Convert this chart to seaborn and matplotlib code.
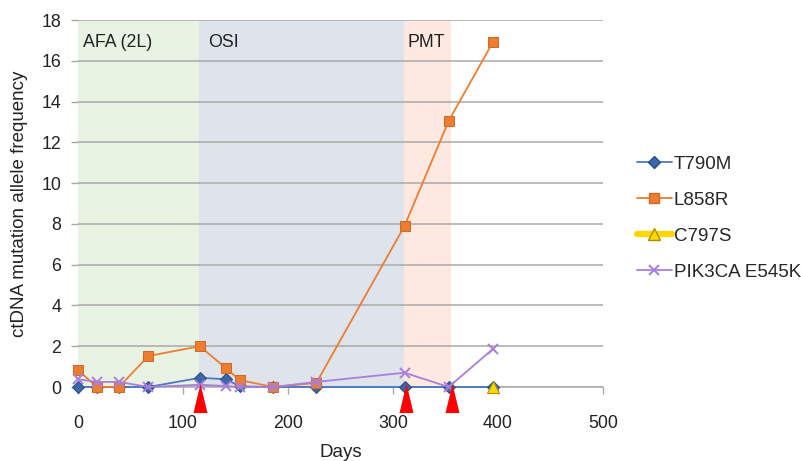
import numpy as np
import pandas as pd
import seaborn as sns
import matplotlib.pyplot as plt
from matplotlib.lines import Line2D
from matplotlib.transforms import blended_transform_factory

# sampling days and allele frequencies (%)
days = [0, 18, 39, 67, 116, 141, 154, 186, 227, 311, 353, 395]
t790m = [0, 0, 0, 0, 0.45, 0.38, 0.03, 0, 0, 0, 0, 0]
l858r = [0.83, 0, 0, 1.52, 2.0, 0.92, 0.34, 0, 0.2, 7.9, 13.05, 16.9]
pik3ca = [0.38, 0.25, 0.25, 0, 0.11, 0.05, 0, 0, 0.25, 0.7, 0, 1.86]
c797s_days = [395]
c797s = [0]

# treatment phases
phase_names = ['AFA (2L)', 'OSI', 'PMT']
phase_start = [0, 115.5, 310.5]
phase_end = [115.5, 310.5, 355]
phase_label_x = [5, 124, 314]
phase_colors = ['#e9f3e3', '#dfe3eb', '#fde9df']

# days of progression (red arrows)
arrow_days = [116, 312, 356]

sns.set_style("white")
plt.rcParams['font.family'] = ['Liberation Sans', 'DejaVu Sans']

fig = plt.figure(figsize=(8.01, 4.61), dpi=100)
ax = fig.add_axes([0.0974, 0.1605, 0.6554, 0.7961])

for s, e, c in zip(phase_start, phase_end, phase_colors):
    ax.axvspan(s, e, color=c, lw=0, zorder=0)
for x, name in zip(phase_label_x, phase_names):
    ax.text(x, 16.9, name, fontsize=12.8, va='center', ha='left', color='#222222', zorder=1)

ax.grid(axis='y', color='#a9a9a9', lw=1.1, zorder=0.5)
ax.set_axisbelow(True)

df = pd.DataFrame({'day': days, 'T790M': t790m, 'L858R': l858r, 'PIK3CA E545K': pik3ca})
sns.lineplot(data=df, x='day', y='T790M', ax=ax, color='#4a78c2', lw=1.3, marker='D',
             markersize=6, markerfacecolor='#3b68a8', markeredgecolor='#2a4d80', zorder=3)
sns.lineplot(data=df, x='day', y='L858R', ax=ax, color='#ed7d31', lw=1.3, marker='s',
             markersize=7.5, markerfacecolor='#ed7d31', markeredgecolor='#d06a28', zorder=4)
sns.lineplot(x=c797s_days, y=c797s, ax=ax, color='#ffd700', lw=4, marker='^',
             markersize=9, markerfacecolor='#ffd700', markeredgecolor='#a89000', zorder=5)
sns.lineplot(data=df, x='day', y='PIK3CA E545K', ax=ax, color='#a87fdc', lw=1.3, marker='x',
             markersize=7, markeredgewidth=1.4, markeredgecolor='#a87fdc', zorder=6)
for ln in ax.lines:
    ln.set_clip_on(False)

trans = blended_transform_factory(ax.transData, ax.transAxes)
tri = [(-0.24, -0.5), (0.24, -0.5), (0, 0.5)]
ax.scatter(arrow_days, [-0.029] * len(arrow_days), marker=tri, s=440, color='#ff0000',
           lw=0, transform=trans, clip_on=False, zorder=10)

ax.set_xlim(0, 500)
ax.set_ylim(0, 18)
ax.set_xticks(range(0, 501, 100))
ax.set_yticks(range(0, 19, 2))
for sp in ['top', 'right', 'left']:
    ax.spines[sp].set_visible(False)
ax.spines['bottom'].set_color('#a9a9a9')
ax.spines['bottom'].set_linewidth(1.1)
ax.tick_params(axis='x', bottom=True, length=5, width=1, color='#a9a9a9', pad=15,
               labelsize=12.8, labelcolor='#222222')
ax.tick_params(axis='y', left=True, length=5, width=1, color='#a9a9a9', pad=7,
               labelsize=12.8, labelcolor='#222222')
ax.set_xlabel('Days', fontsize=13.5, color='#222222', labelpad=8.5)
ax.set_ylabel('ctDNA mutation allele frequency', fontsize=13.5, color='#222222', labelpad=10)

handles = [
    Line2D([], [], color='#4a78c2', lw=1.3, marker='D', ms=6, mfc='#3b68a8', mec='#2a4d80'),
    Line2D([], [], color='#ed7d31', lw=1.3, marker='s', ms=7.5, mfc='#ed7d31', mec='#d06a28'),
    Line2D([], [], color='#ffd700', lw=4.5, marker='^', ms=9, mfc='#ffd700', mec='#a89000'),
    Line2D([], [], color='#a87fdc', lw=1.3, marker='x', ms=7, mew=1.4),
]
fig.legend(handles, ['T790M', 'L858R', 'C797S', 'PIK3CA E545K'], loc='upper left',
           bbox_to_anchor=(0.795, 0.662), frameon=False, fontsize=13.5, borderpad=0,
           borderaxespad=0, handlelength=1.87, handletextpad=0.1, labelspacing=1.0)

fig.savefig('out.png', dpi=100)
